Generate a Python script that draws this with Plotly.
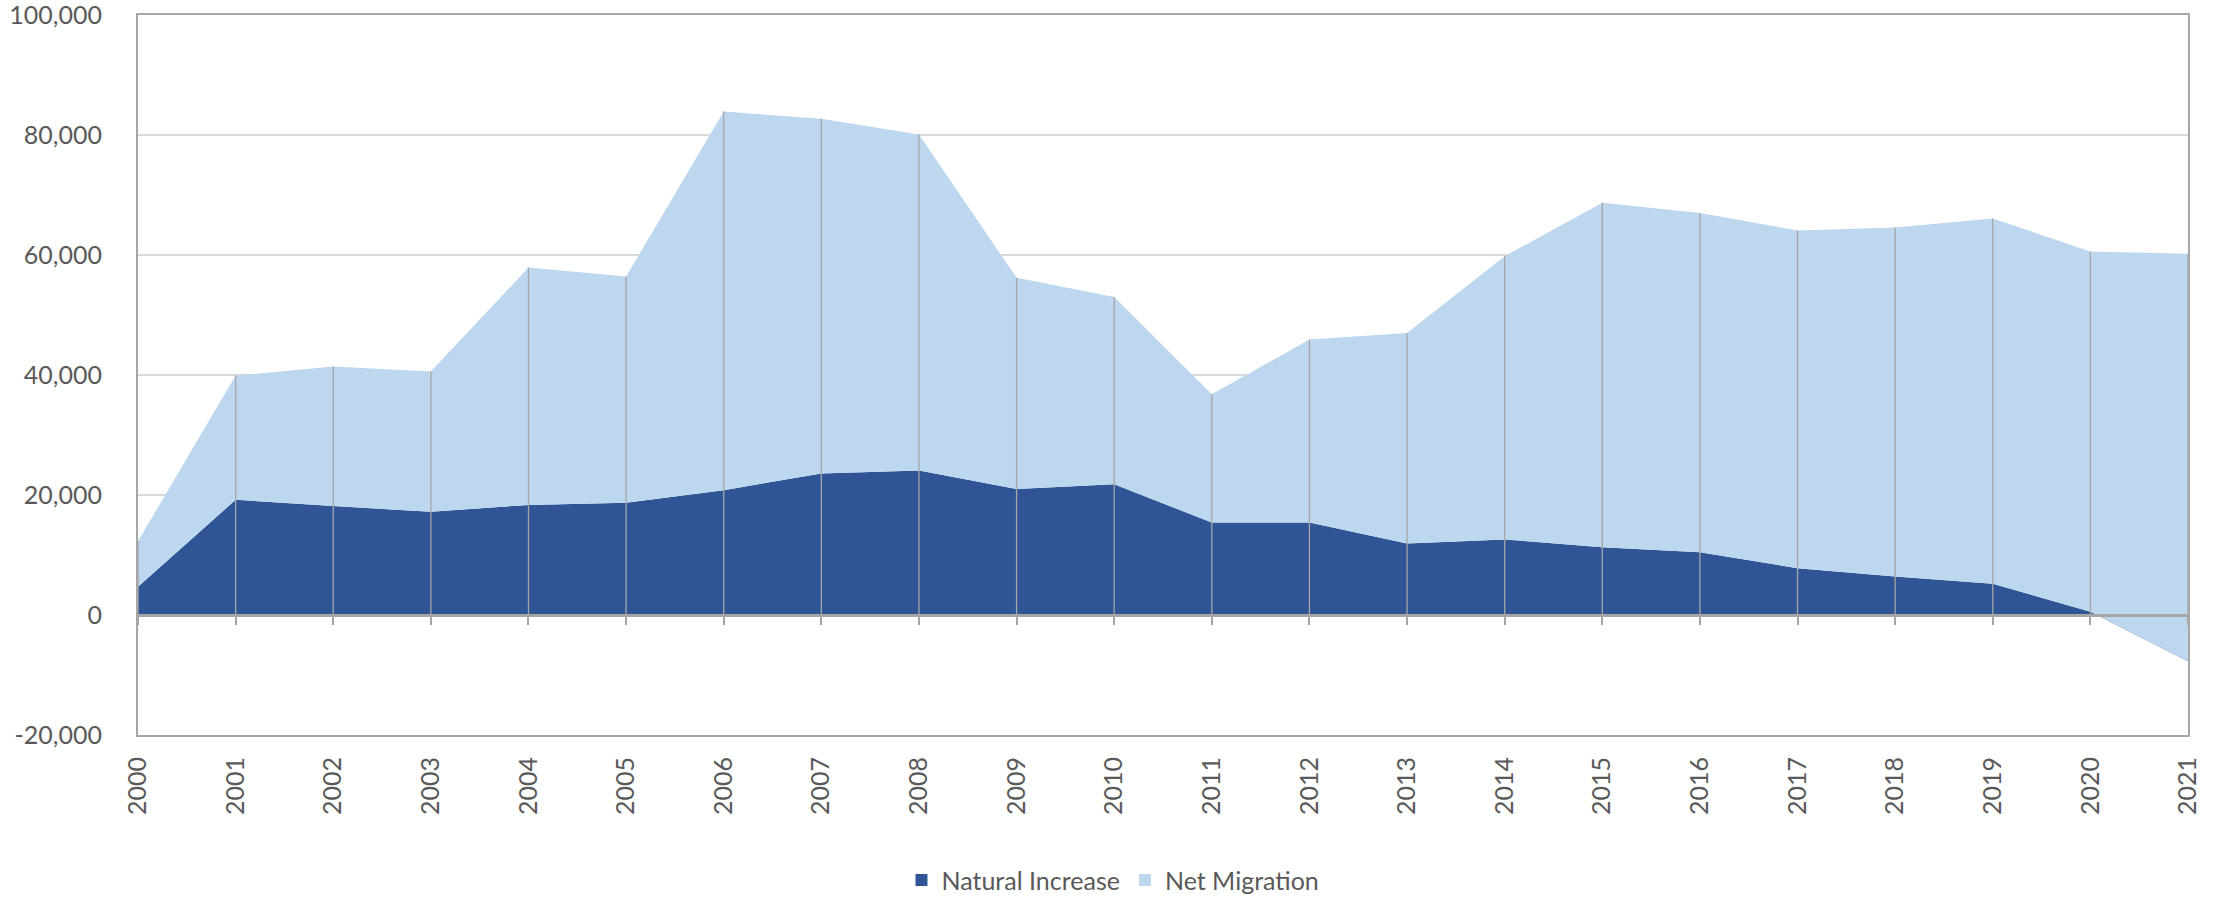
import plotly.graph_objects as go

# ── data ─────────────────────────────────────────────────────────────────────

years = [str(y) for y in range(2000, 2022)]

natural_increase = [4700, 19200, 18150, 17200, 18350, 18700, 20800, 23600, 24100, 21000, 21800,
                    15400, 15400, 11900, 12600, 11300, 10450, 7800, 6400, 5200, 550, -7700]

net_migration = [7600, 20700, 23250, 23400, 39550, 37700, 63100, 59100, 56000, 35200, 31200,
                 21400, 30500, 35100, 47200, 57400, 56550, 56300, 58200, 60900, 60050, 67900]

y_ticks = [-20000, 0, 20000, 40000, 60000, 80000, 100000]

# ── style ────────────────────────────────────────────────────────────────────

DARK = "#2F5597"
LIGHT = "#BDD7EE"
AXIS = "#A6A6A6"
GRID = "#D9D9D9"
TEXT = "#595959"
FONT = "Lato"

y_min, y_max = y_ticks[0], y_ticks[-1]
zero_pos = (0 - y_min) / (y_max - y_min)

totals = [a + b for a, b in zip(natural_increase, net_migration)]

# drop lines from the top of the stack down to the category axis
drop_x, drop_y = [], []
for yr, tot in zip(years, totals):
    drop_x += [yr, yr, None]
    drop_y += [0, tot, None]

fig = go.Figure()

fig.add_trace(go.Scatter(
    x=years, y=natural_increase, name="Natural Increase",
    stackgroup="one", mode="none", fillcolor=DARK, showlegend=False,
))
fig.add_trace(go.Scatter(
    x=years, y=net_migration, name="Net Migration",
    stackgroup="one", mode="none", fillcolor=LIGHT, showlegend=False,
))
fig.add_trace(go.Scatter(
    x=drop_x, y=drop_y, xaxis="x2", mode="lines",
    line=dict(color=AXIS, width=1.3), showlegend=False, hoverinfo="skip",
))

# square legend keys, like the spreadsheet legend
for name, col in [("Natural Increase", DARK), ("Net Migration", LIGHT)]:
    fig.add_trace(go.Bar(x=[None], y=[None], name=name, marker=dict(color=col, line_width=0)))

fig.update_layout(
    width=2221, height=900,
    margin=dict(l=138, r=33, t=15, b=165, autoexpand=False),
    paper_bgcolor="white", plot_bgcolor="white",
    font=dict(family=FONT, size=25, color=TEXT),
    showlegend=True,
    legend=dict(
        orientation="h", x=0.4756, xanchor="center",
        yref="container", y=0.022, yanchor="middle",
        font=dict(size=25, color=TEXT), traceorder="normal",
    ),
    xaxis=dict(
        type="category", categoryorder="array", categoryarray=years,
        range=[0, len(years) - 1], automargin=False,
        showgrid=False, zeroline=False,
        showline=True, mirror=True, linecolor=AXIS, linewidth=2,
        ticks="", tickangle=-90, ticklabelstandoff=10,
        tickfont=dict(size=25, color=TEXT),
    ),
    xaxis2=dict(
        type="category", categoryorder="array", categoryarray=years,
        range=[0, len(years) - 1], overlaying="x", anchor="free", position=zero_pos,
        showgrid=False, zeroline=False, showticklabels=False,
        showline=True, linecolor=AXIS, linewidth=3,
        ticks="outside", ticklen=8, tickwidth=2, tickcolor=AXIS,
    ),
    yaxis=dict(
        range=[y_min, y_max], tickvals=y_ticks, ticktext=[f"{v:,}" for v in y_ticks],
        automargin=False, ticklabeloverflow="allow",
        showgrid=True, gridcolor=GRID, gridwidth=1.5,
        zeroline=False,
        showline=True, mirror=True, linecolor=AXIS, linewidth=2,
        ticks="", ticklabelstandoff=29,
        tickfont=dict(size=25, color=TEXT),
    ),
)

# the page body's default 8px margin would shift the figure
fig.write_html("out.html", config={"displayModeBar": False},
               post_script="document.body.style.margin = '0';")
